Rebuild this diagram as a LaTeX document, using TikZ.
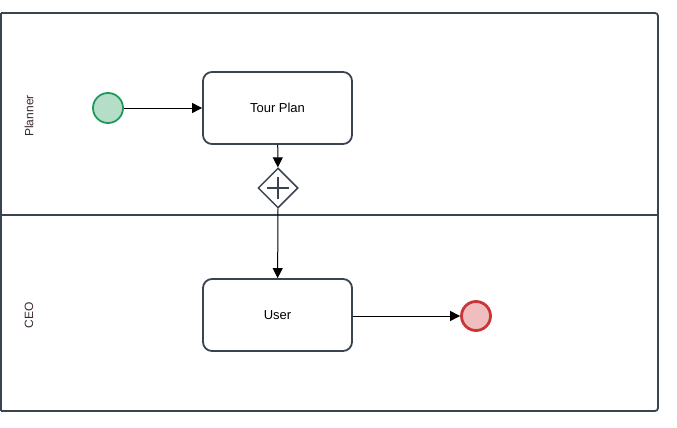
\documentclass[tikz,border=0pt]{standalone}
\usepackage{fontspec}
\setmainfont{Liberation Sans}
\usetikzlibrary{arrows.meta,shapes.geometric,calc}
\definecolor{strokec}{HTML}{3A4450}
\definecolor{startfill}{HTML}{B5DEC8}
\definecolor{startdraw}{HTML}{1F9A5A}
\definecolor{endfill}{HTML}{F0BEBE}
\definecolor{enddraw}{HTML}{CC3535}
\definecolor{lanetext}{HTML}{3A2A2A}
\begin{document}
\begin{tikzpicture}[x=1pt,y=-1pt,
  task/.style={draw=strokec,line width=1.8pt,rounded corners=9pt,minimum width=149pt,minimum height=72pt,fill=white,font=\fontsize{13}{15}\selectfont,inner sep=0pt},
  startev/.style={circle,draw=startdraw,fill=startfill,line width=1.8pt,minimum size=30pt,inner sep=0pt},
  endev/.style={circle,draw=enddraw,fill=endfill,line width=2.8pt,minimum size=29pt,inner sep=0pt},
  gate/.style={diamond,draw=strokec,fill=white,line width=1.5pt,minimum size=40pt,inner sep=0pt,aspect=1},
  flow/.style={draw=black,line width=1pt,-{Triangle[length=10pt,width=10pt]}},
  lanelabel/.style={rotate=90,font=\fontsize{12}{14}\selectfont,text=lanetext}
]
\useasboundingbox (0,0) rectangle (677,428);
% pool
\draw[strokec,line width=1.8pt,rounded corners=3pt] (1,13) -- (658,13) -- (658,411) -- (1,411);
\draw[strokec,line width=1.8pt] (1,411) -- (1,13);
\draw[strokec,line width=1.8pt] (1,215) -- (658,215);
\node[lanelabel] (lp) at (29,116) {Planner};
\node[lanelabel] (lc) at (29,315) {CEO};
% nodes
\node[startev] (s) at (108,108) {};
\node[task] (tp) at (277.5,108) {Tour Plan};
\node[gate] (g) at (278,188) {};
\draw[strokec,line width=2pt] ($(g.center)+(-11,0)$) -- ($(g.center)+(11,0)$);
\draw[strokec,line width=2pt] ($(g.center)+(0,-11)$) -- ($(g.center)+(0,11)$);
\node[task] (u) at (277.5,315) {User};
\node[endev] (e) at (476,316) {};
% flows
\draw[flow] (s) -- (tp);
\draw[flow] (tp) -- (g);
\draw[flow] (g) -- (u);
\draw[flow] (u.east |- e) -- (e);
\end{tikzpicture}
\end{document}
